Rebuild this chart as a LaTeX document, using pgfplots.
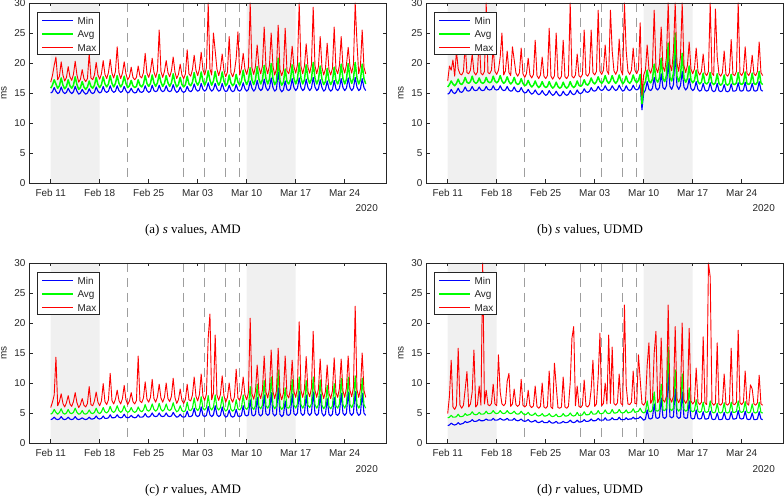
\documentclass[border=0pt]{standalone}
\usepackage{fontspec}
\setmainfont{Liberation Sans}
\newfontfamily\capfont{Liberation Serif}
\usepackage{pgfplots}
\usepackage{pgfplotstable}
\pgfplotsset{compat=1.18}
\definecolor{shade}{gray}{0.94}
\definecolor{axcol}{gray}{0.15}
\definecolor{dashcol}{gray}{0.62}
\definecolor{mblue}{rgb}{0,0,1}
\definecolor{mgreen}{rgb}{0,1,0}
\definecolor{mred}{rgb}{1,0,0}

% panel (a): s values, AMD  -- 4 samples per day from Feb 11
\pgfplotstableread[row sep=\\]{
mn av mx\\
15.0 15.8 16.8\\ 15.2 16.3 17.9\\ 15.9 17.2 19.6\\ 15.3 16.5 21.0\\
14.9 15.8 17.2\\ 15.1 16.2 17.8\\ 16.0 17.5 20.2\\ 15.2 16.3 18.0\\
14.9 15.7 17.0\\ 15.1 16.1 17.6\\ 15.8 17.2 19.4\\ 15.2 16.2 17.7\\
14.9 15.8 17.1\\ 15.2 16.3 18.1\\ 16.1 17.7 20.3\\ 15.3 16.4 18.0\\
14.8 15.6 16.8\\ 15.0 15.9 17.3\\ 15.6 16.9 18.9\\ 15.1 16.0 17.4\\
14.8 15.6 16.9\\ 15.0 16.0 17.4\\ 15.7 17.0 21.6\\ 15.1 16.1 17.5\\
14.9 15.8 17.2\\ 15.1 16.3 18.0\\ 16.0 17.6 20.1\\ 15.3 16.4 18.0\\
15.0 15.9 17.3\\ 15.2 16.4 18.2\\ 16.1 17.7 20.4\\ 15.3 16.5 18.1\\
15.1 16.0 17.4\\ 15.3 16.5 18.4\\ 16.2 17.9 20.6\\ 15.4 16.6 18.3\\
15.1 16.0 17.5\\ 15.3 16.6 18.6\\ 16.2 17.9 22.7\\ 15.4 16.6 18.4\\
15.1 16.0 17.4\\ 15.3 16.5 18.3\\ 16.1 17.8 20.2\\ 15.4 16.6 18.2\\
15.0 15.9 17.2\\ 15.2 16.2 17.7\\ 15.8 17.1 19.3\\ 15.2 16.2 17.6\\
15.0 15.9 17.2\\ 15.1 16.1 17.6\\ 15.8 17.2 19.5\\ 15.2 16.3 17.8\\
15.1 16.0 17.5\\ 15.3 16.5 18.4\\ 16.2 17.9 21.6\\ 15.4 16.6 18.3\\
15.1 16.1 17.6\\ 15.3 16.6 18.6\\ 16.3 18.0 20.8\\ 15.4 16.7 18.5\\
15.2 16.1 17.6\\ 15.4 16.7 18.7\\ 16.3 18.1 25.5\\ 15.5 16.8 18.6\\
15.2 16.1 17.6\\ 15.4 16.6 18.6\\ 16.2 17.9 20.4\\ 15.4 16.7 18.4\\
15.2 16.1 17.7\\ 15.4 16.7 18.7\\ 16.4 18.2 21.0\\ 15.5 16.8 18.5\\
15.1 16.0 17.4\\ 15.3 16.4 18.1\\ 16.0 17.6 19.8\\ 15.3 16.4 18.0\\
15.1 16.0 17.4\\ 15.3 16.4 18.2\\ 16.1 17.8 22.2\\ 15.4 16.5 18.2\\
15.2 16.2 17.8\\ 15.5 16.8 18.9\\ 16.5 18.4 21.3\\ 15.6 16.9 18.8\\
15.3 16.3 17.9\\ 15.5 16.9 19.0\\ 16.6 18.5 21.8\\ 15.6 17.0 18.9\\
15.3 16.3 18.0\\ 15.6 17.0 19.2\\ 16.7 18.7 30.0\\ 15.7 17.1 19.0\\
15.3 16.3 18.0\\ 15.6 17.0 25.0\\ 16.6 18.6 22.0\\ 15.7 17.0 19.0\\
15.3 16.3 17.9\\ 15.5 16.9 19.0\\ 16.6 18.5 21.5\\ 15.6 17.0 18.8\\
15.2 16.2 17.7\\ 15.4 16.6 18.5\\ 16.3 18.0 24.4\\ 15.5 16.7 18.4\\
15.2 16.2 17.7\\ 15.4 16.6 18.6\\ 16.4 18.1 20.8\\ 15.5 16.8 25.2\\
15.3 16.3 18.0\\ 15.6 17.0 19.1\\ 16.7 18.8 21.6\\ 15.7 17.1 19.0\\
15.3 16.4 18.1\\ 15.6 17.1 19.3\\ 17.0 19.2 30.0\\ 15.8 17.2 19.2\\
15.3 16.4 18.1\\ 15.7 17.2 19.4\\ 17.1 19.4 23.0\\ 15.8 17.3 19.3\\
15.4 16.5 18.2\\ 15.7 17.2 19.5\\ 17.3 19.6 26.0\\ 15.9 17.4 19.4\\
15.4 16.5 18.2\\ 15.8 17.3 19.6\\ 17.5 19.9 25.0\\ 15.9 17.4 19.5\\
15.3 16.4 18.0\\ 15.6 16.9 19.0\\ 18.5 20.8 26.3\\ 15.7 17.1 18.9\\
15.2 16.3 17.9\\ 15.5 16.8 18.8\\ 17.0 19.0 25.8\\ 15.6 16.9 18.7\\
15.4 16.5 18.2\\ 15.7 17.2 19.5\\ 17.4 19.7 22.8\\ 15.9 17.4 19.4\\
15.4 16.5 18.3\\ 15.8 17.3 19.7\\ 17.5 20.0 30.0\\ 15.9 17.5 19.5\\
15.4 16.5 18.2\\ 15.7 17.2 19.5\\ 17.3 19.7 23.2\\ 15.9 17.4 19.3\\
15.4 16.6 18.3\\ 15.8 17.3 19.7\\ 17.6 20.1 29.3\\ 16.0 17.5 19.6\\
15.4 16.5 18.2\\ 15.7 17.2 19.4\\ 17.2 19.5 24.4\\ 15.9 17.3 19.3\\
15.3 16.4 18.0\\ 15.6 16.9 19.0\\ 17.0 19.1 23.3\\ 15.7 17.1 18.9\\
15.3 16.4 18.0\\ 15.6 17.0 19.1\\ 17.1 19.3 26.0\\ 15.7 17.1 19.0\\
15.4 16.5 18.2\\ 15.8 17.3 19.6\\ 17.4 19.8 24.4\\ 15.9 17.4 19.4\\
15.4 16.5 18.3\\ 15.8 17.3 19.7\\ 17.5 19.9 22.6\\ 15.9 17.5 19.5\\
15.4 16.6 18.3\\ 15.8 17.4 19.8\\ 17.6 20.1 30.0\\ 16.0 17.5 23.5\\
15.4 16.5 18.2\\ 15.7 17.2 19.5\\ 17.4 19.8 25.5\\ 15.9 17.4 19.3\\
15.4 16.5 18.2\\
}\tabA

% panel (b): s values, UDMD
\pgfplotstableread[row sep=\\]{
mn av mx\\
14.8 16.0 17.0\\ 15.0 16.4 19.5\\ 15.6 17.0 18.8\\ 15.1 16.5 20.5\\
14.9 16.2 17.8\\ 15.2 16.6 22.0\\ 15.8 17.3 19.0\\ 15.2 16.6 18.2\\
15.1 16.4 18.0\\ 15.4 16.8 18.6\\ 16.0 17.6 23.0\\ 15.4 16.8 18.4\\
15.3 16.6 18.2\\ 15.5 16.9 18.8\\ 16.1 17.8 21.5\\ 15.5 16.9 18.5\\
15.4 16.6 18.0\\ 15.5 16.8 18.5\\ 16.0 17.5 24.0\\ 15.5 16.8 18.3\\
15.4 16.6 18.0\\ 15.5 16.8 18.6\\ 16.1 17.6 30.0\\ 15.6 16.9 18.4\\
15.5 16.7 18.2\\ 15.6 16.9 18.8\\ 16.2 17.8 22.5\\ 15.6 17.0 18.6\\
15.5 16.7 18.1\\ 15.6 17.0 18.8\\ 16.2 17.9 21.0\\ 15.6 17.0 25.0\\
15.4 16.6 18.0\\ 15.5 16.9 18.7\\ 16.1 17.7 22.0\\ 15.5 16.9 18.4\\
15.3 16.5 17.9\\ 15.4 16.8 22.7\\ 16.0 17.6 20.5\\ 15.4 16.7 18.3\\
15.2 16.4 17.8\\ 15.3 16.6 18.4\\ 15.9 17.4 22.5\\ 15.3 16.6 18.2\\
15.0 16.2 17.6\\ 15.1 16.4 18.2\\ 15.6 17.1 20.8\\ 15.1 16.4 18.0\\
14.8 16.0 17.5\\ 15.0 16.3 18.1\\ 15.5 17.0 23.8\\ 15.0 16.3 17.9\\
14.7 15.9 17.4\\ 14.9 16.2 18.0\\ 15.4 16.9 21.0\\ 14.9 16.2 17.8\\
14.6 15.9 17.4\\ 14.8 16.1 17.9\\ 15.4 16.9 25.8\\ 14.9 16.2 17.8\\
14.6 15.8 17.3\\ 14.8 16.1 17.9\\ 15.3 16.8 25.0\\ 14.8 16.1 17.7\\
14.5 15.8 17.3\\ 14.7 16.0 17.8\\ 15.3 16.8 23.8\\ 14.8 16.1 17.7\\
14.6 15.8 17.4\\ 14.8 16.1 17.9\\ 15.4 16.9 30.0\\ 14.9 16.2 17.8\\
14.7 15.9 17.5\\ 14.9 16.2 18.0\\ 15.5 17.0 21.5\\ 15.0 16.3 17.9\\
14.9 16.1 17.6\\ 15.1 16.4 18.1\\ 15.7 17.2 25.5\\ 15.2 16.5 18.1\\
15.1 16.3 17.8\\ 15.3 16.7 18.4\\ 15.9 17.5 25.5\\ 15.4 16.8 18.4\\
15.3 16.5 18.0\\ 15.5 16.9 18.6\\ 16.1 17.7 28.8\\ 15.6 16.9 18.6\\
15.4 16.6 18.1\\ 15.6 17.0 18.8\\ 16.2 17.9 23.0\\ 15.6 17.0 18.7\\
15.4 16.6 18.1\\ 15.6 17.0 28.8\\ 16.2 17.9 22.0\\ 15.7 17.0 18.7\\
15.4 16.6 18.1\\ 15.6 17.0 18.8\\ 16.3 18.0 24.0\\ 15.7 17.1 18.8\\
15.3 16.5 18.0\\ 15.5 16.9 30.0\\ 16.2 17.8 22.0\\ 15.6 16.9 18.6\\
15.4 16.6 18.1\\ 15.6 17.0 18.8\\ 16.3 18.0 22.5\\ 15.7 17.1 18.8\\
15.5 16.7 18.2\\ 15.7 17.1 18.9\\ 16.4 18.1 26.7\\ 12.2 13.2 14.6\\
15.0 16.3 18.0\\ 15.5 16.9 18.8\\ 16.9 18.8 23.0\\ 15.6 17.0 18.9\\
15.4 16.7 18.3\\ 15.8 17.3 19.4\\ 17.6 19.8 28.8\\ 15.8 17.3 19.2\\
15.5 16.8 18.4\\ 15.9 17.5 19.8\\ 18.2 20.8 26.0\\ 15.9 17.4 19.4\\
15.6 16.9 18.6\\ 16.2 17.9 21.0\\ 20.2 23.3 30.0\\ 16.1 17.6 19.8\\
15.6 17.0 18.7\\ 16.4 18.3 22.0\\ 21.6 25.0 30.0\\ 16.2 17.8 20.0\\
15.6 16.9 18.6\\ 16.2 17.8 21.0\\ 18.6 21.6 30.0\\ 16.0 17.5 19.6\\
15.5 16.8 18.4\\ 15.9 17.4 19.6\\ 17.4 19.5 23.5\\ 15.8 17.2 19.0\\
15.4 16.7 18.2\\ 15.7 17.1 19.0\\ 16.9 18.8 22.5\\ 15.6 16.9 18.6\\
15.3 16.5 18.0\\ 15.5 16.8 18.6\\ 16.6 18.3 21.5\\ 15.5 16.7 18.3\\
15.3 16.5 17.9\\ 15.5 16.8 18.6\\ 16.7 18.4 30.0\\ 15.5 16.7 18.3\\
15.2 16.4 17.9\\ 15.4 16.7 29.0\\ 16.6 18.2 21.0\\ 15.4 16.6 18.2\\
15.2 16.3 17.8\\ 15.4 16.6 18.4\\ 16.4 18.0 22.0\\ 15.3 16.5 18.1\\
15.2 16.3 17.8\\ 15.4 16.6 18.4\\ 16.5 18.1 23.9\\ 15.3 16.5 18.1\\
15.3 16.4 17.9\\ 15.5 16.7 18.6\\ 16.7 18.4 30.0\\ 15.4 16.6 18.3\\
15.3 16.4 17.9\\ 15.5 16.7 18.5\\ 16.8 18.5 22.7\\ 15.4 16.6 18.3\\
15.3 16.4 17.9\\ 15.5 16.7 18.5\\ 16.6 18.3 21.3\\ 15.4 16.6 18.2\\
15.3 16.4 17.9\\ 15.5 16.8 18.6\\ 16.9 18.6 23.5\\ 15.5 16.7 18.4\\
15.3 16.4 17.9\\
}\tabB

% panel (c): r values, AMD
\pgfplotstableread[row sep=\\]{
mn av mx\\
3.9 4.8 5.9\\ 4.0 5.0 6.8\\ 4.3 5.6 8.0\\ 4.0 5.1 14.3\\
3.9 4.8 6.2\\ 4.0 5.1 6.9\\ 4.4 5.7 8.2\\ 4.0 5.0 6.6\\
3.9 4.8 6.0\\ 4.0 5.0 6.7\\ 4.3 5.6 7.9\\ 4.0 5.0 6.5\\
3.9 4.9 6.1\\ 4.0 5.1 6.9\\ 4.4 5.8 8.4\\ 4.0 5.1 6.7\\
3.9 4.8 5.9\\ 4.0 4.9 6.4\\ 4.2 5.4 7.4\\ 4.0 4.9 6.3\\
3.9 4.8 6.0\\ 4.0 5.0 6.6\\ 4.3 5.5 9.4\\ 4.0 5.0 6.4\\
4.0 4.9 6.2\\ 4.1 5.1 7.0\\ 4.5 5.8 8.5\\ 4.1 5.1 6.8\\
4.0 4.9 6.2\\ 4.1 5.2 7.0\\ 4.5 5.9 9.9\\ 4.1 5.2 6.9\\
4.1 5.0 6.4\\ 4.2 5.3 7.2\\ 4.7 6.1 11.6\\ 4.2 5.3 7.1\\
4.2 5.1 6.5\\ 4.3 5.4 7.3\\ 4.7 6.2 8.8\\ 4.3 5.4 7.1\\
4.2 5.1 6.5\\ 4.3 5.4 7.4\\ 4.8 6.2 9.6\\ 4.3 5.4 7.2\\
4.2 5.1 6.4\\ 4.3 5.3 7.0\\ 4.6 5.9 8.4\\ 4.3 5.3 6.9\\
4.2 5.1 6.5\\ 4.3 5.3 7.1\\ 4.7 6.0 14.5\\ 4.3 5.4 7.0\\
4.3 5.2 6.7\\ 4.4 5.5 7.5\\ 4.9 6.4 10.2\\ 4.4 5.5 7.3\\
4.3 5.3 6.8\\ 4.5 5.6 7.6\\ 5.0 6.5 10.6\\ 4.5 5.6 7.4\\
4.4 5.3 6.8\\ 4.5 5.6 7.7\\ 5.0 6.6 9.8\\ 4.5 5.6 7.5\\
4.4 5.3 6.8\\ 4.5 5.6 7.6\\ 5.0 6.5 10.0\\ 4.5 5.6 7.4\\
4.4 5.4 6.9\\ 4.5 5.7 7.8\\ 5.1 6.7 10.8\\ 4.6 5.7 7.6\\
4.3 5.2 6.6\\ 4.4 5.4 7.2\\ 4.8 6.2 9.0\\ 4.4 5.4 7.1\\
4.3 5.2 6.6\\ 4.4 5.4 7.3\\ 5.3 6.8 9.8\\ 4.4 5.5 7.2\\
4.4 5.4 7.0\\ 4.6 5.8 8.0\\ 5.8 7.5 11.0\\ 4.6 5.8 7.8\\
4.4 5.4 7.0\\ 4.6 5.8 8.1\\ 6.0 7.7 11.5\\ 4.6 5.8 7.8\\
4.4 5.5 7.1\\ 4.6 5.9 8.2\\ 6.1 7.9 17.5\\ 4.7 5.9 21.5\\
4.4 5.5 7.2\\ 4.7 6.0 8.3\\ 6.2 8.0 18.0\\ 4.7 5.9 8.0\\
4.4 5.5 7.1\\ 4.6 5.9 8.1\\ 6.0 7.7 11.2\\ 4.7 5.8 7.9\\
4.3 5.3 6.8\\ 4.5 5.6 7.6\\ 5.5 7.1 10.0\\ 4.5 5.6 7.4\\
4.3 5.3 6.8\\ 4.5 5.6 7.7\\ 5.6 7.2 12.3\\ 4.5 5.7 7.5\\
4.4 5.5 7.1\\ 4.6 5.9 8.2\\ 6.2 8.0 11.0\\ 4.7 5.9 8.0\\
4.5 5.6 7.2\\ 4.7 6.0 8.4\\ 7.2 9.4 20.8\\ 4.7 6.0 8.2\\
4.5 5.6 7.3\\ 4.8 6.2 8.6\\ 7.6 9.8 13.0\\ 4.8 6.1 8.3\\
4.5 5.7 7.4\\ 4.8 6.3 8.8\\ 8.0 10.4 14.5\\ 4.9 6.2 8.5\\
4.6 5.8 7.5\\ 4.9 6.4 9.0\\ 8.4 11.0 15.5\\ 4.9 6.3 8.6\\
4.5 5.7 7.4\\ 4.8 6.2 8.7\\ 9.2 12.2 15.8\\ 4.8 6.1 8.4\\
4.4 5.6 7.2\\ 4.7 6.0 8.3\\ 7.0 9.2 14.5\\ 4.7 5.9 8.1\\
4.6 5.8 7.5\\ 4.9 6.4 9.0\\ 8.2 10.6 13.8\\ 4.9 6.3 8.6\\
4.6 5.8 7.6\\ 5.0 6.5 9.2\\ 8.6 11.0 20.2\\ 5.0 6.4 8.8\\
4.6 5.8 7.6\\ 4.9 6.4 9.0\\ 8.0 10.4 14.4\\ 5.0 6.3 8.6\\
4.6 5.9 7.7\\ 5.0 6.5 9.2\\ 8.5 11.0 18.6\\ 5.0 6.4 8.8\\
4.6 5.8 7.6\\ 4.9 6.4 9.0\\ 8.1 10.5 14.0\\ 5.0 6.3 8.6\\
4.5 5.7 7.4\\ 4.8 6.2 8.6\\ 7.4 9.6 13.0\\ 4.8 6.1 8.3\\
4.5 5.7 7.4\\ 4.8 6.2 8.7\\ 7.6 9.9 14.2\\ 4.8 6.2 8.4\\
4.6 5.8 7.6\\ 5.0 6.5 9.1\\ 8.3 10.8 14.0\\ 5.0 6.4 8.7\\
4.6 5.8 7.6\\ 5.0 6.5 9.2\\ 8.5 11.0 14.5\\ 5.0 6.4 8.8\\
4.6 5.9 7.7\\ 5.0 6.6 9.3\\ 8.6 11.2 22.8\\ 5.1 6.5 8.9\\
4.6 5.8 7.6\\ 4.9 6.4 9.0\\ 8.3 10.8 15.0\\ 5.0 6.4 8.8\\
4.6 5.8 7.6\\
}\tabC

% panel (d): r values, UDMD
\pgfplotstableread[row sep=\\]{
mn av mx\\
2.9 4.2 4.9\\ 3.0 4.3 7.8\\ 3.3 4.6 13.8\\ 3.1 4.3 6.0\\
3.0 4.3 5.6\\ 3.1 4.4 6.2\\ 3.4 4.8 15.8\\ 3.1 4.4 6.3\\
3.2 4.4 5.8\\ 3.3 4.5 6.3\\ 3.6 4.9 9.0\\ 3.4 4.6 11.9\\
3.5 4.7 6.0\\ 3.6 4.8 6.5\\ 3.9 5.2 8.5\\ 3.6 4.8 15.5\\
3.6 4.7 6.0\\ 3.7 4.8 6.4\\ 3.9 5.1 9.5\\ 3.7 4.8 6.3\\
3.7 4.8 30.0\\ 3.8 4.9 6.5\\ 4.0 5.3 8.8\\ 3.8 4.9 6.4\\
3.8 4.9 6.2\\ 3.8 5.0 6.6\\ 4.1 5.4 9.8\\ 3.8 5.0 6.5\\
3.8 4.9 6.2\\ 3.9 5.0 14.7\\ 4.1 5.4 8.5\\ 3.9 5.0 6.5\\
3.8 4.9 6.2\\ 3.9 5.0 6.6\\ 4.1 5.4 10.3\\ 3.8 5.0 11.6\\
3.8 4.9 6.1\\ 3.8 5.0 6.5\\ 4.1 5.3 9.0\\ 3.8 4.9 6.4\\
3.7 4.8 6.1\\ 3.8 4.9 6.4\\ 4.0 5.3 10.6\\ 3.7 4.9 6.3\\
3.6 4.7 6.0\\ 3.7 4.8 6.3\\ 3.9 5.1 8.8\\ 3.6 4.7 6.2\\
3.5 4.6 5.9\\ 3.6 4.7 6.2\\ 3.8 5.0 9.5\\ 3.5 4.6 6.1\\
3.4 4.5 5.8\\ 3.5 4.6 6.1\\ 3.7 4.9 10.0\\ 3.4 4.5 6.0\\
3.4 4.5 5.8\\ 3.4 4.6 6.1\\ 3.7 4.9 12.0\\ 3.4 4.5 6.0\\
3.3 4.4 5.7\\ 3.4 4.5 13.3\\ 3.6 4.8 9.5\\ 3.3 4.4 5.9\\
3.3 4.4 5.8\\ 3.4 4.5 6.0\\ 3.6 4.9 11.0\\ 3.4 4.5 6.0\\
3.4 4.5 5.8\\ 3.5 4.6 6.1\\ 3.8 5.0 10.0\\ 3.5 4.6 17.5\\
3.4 4.5 19.4\\ 3.5 4.6 6.2\\ 3.8 5.1 9.5\\ 3.5 4.6 6.1\\
3.5 4.6 5.9\\ 3.6 4.7 6.3\\ 3.9 5.2 10.5\\ 3.6 4.7 6.2\\
3.6 4.7 6.0\\ 3.7 4.8 6.4\\ 4.0 5.3 9.0\\ 3.7 4.8 13.8\\
3.7 4.8 6.1\\ 3.8 4.9 6.5\\ 4.1 5.4 11.0\\ 3.8 4.9 18.3\\
3.8 4.9 6.2\\ 3.8 5.0 6.6\\ 4.2 5.5 10.0\\ 3.8 5.0 6.5\\
3.8 4.9 18.0\\ 3.9 5.0 6.6\\ 4.2 5.6 16.0\\ 3.9 5.0 6.6\\
3.9 5.0 6.3\\ 3.9 5.1 6.7\\ 4.3 5.6 11.5\\ 3.9 5.1 6.6\\
3.9 5.0 6.3\\ 3.9 5.1 23.0\\ 4.2 5.5 9.5\\ 3.9 5.0 6.5\\
4.0 5.1 6.4\\ 4.0 5.2 6.8\\ 4.3 5.7 12.0\\ 4.0 5.1 6.6\\
4.1 5.2 6.5\\ 4.1 5.3 14.7\\ 4.4 5.8 10.5\\ 4.1 5.2 6.6\\
3.8 5.0 6.3\\ 4.0 5.2 6.8\\ 5.5 7.0 13.0\\ 4.1 5.3 16.7\\
4.0 5.2 6.6\\ 4.2 5.5 7.2\\ 6.5 8.5 15.0\\ 4.2 5.4 18.6\\
4.1 5.3 6.7\\ 4.3 5.6 7.4\\ 7.5 9.8 17.5\\ 4.3 5.5 7.2\\
4.1 5.4 6.8\\ 4.4 5.8 7.8\\ 12.0 16.0 23.0\\ 4.4 5.7 7.5\\
4.2 5.4 6.8\\ 4.4 5.8 7.8\\ 9.0 12.2 19.4\\ 4.4 5.7 7.4\\
4.1 5.3 6.7\\ 4.3 5.7 7.5\\ 8.5 11.5 20.0\\ 4.3 5.6 7.2\\
4.1 5.3 6.6\\ 4.2 5.5 7.2\\ 7.0 9.2 19.1\\ 4.2 5.4 7.0\\
4.0 5.2 6.5\\ 4.1 5.4 6.9\\ 5.5 7.2 12.5\\ 4.1 5.3 6.8\\
4.0 5.1 6.4\\ 4.1 5.3 6.8\\ 5.2 6.8 17.7\\ 4.0 5.2 6.7\\
4.0 5.1 6.4\\ 4.1 5.3 30.0\\ 5.3 7.0 27.7\\ 4.0 5.2 6.7\\
3.9 5.0 6.3\\ 4.0 5.2 6.6\\ 5.0 6.6 16.7\\ 3.9 5.1 6.5\\
3.9 5.0 6.3\\ 4.0 5.2 6.7\\ 5.1 6.7 11.5\\ 4.0 5.1 6.5\\
3.9 5.0 6.3\\ 4.0 5.2 6.7\\ 5.2 6.8 15.8\\ 4.0 5.1 6.5\\
4.0 5.1 6.4\\ 4.1 5.3 6.8\\ 5.4 7.0 18.8\\ 4.1 5.2 6.7\\
4.0 5.1 6.4\\ 4.1 5.3 6.8\\ 5.3 6.9 12.0\\ 4.0 5.2 6.6\\
3.9 5.0 6.3\\ 4.0 5.2 9.7\\ 5.0 6.5 9.0\\ 3.9 5.1 6.5\\
3.9 5.0 6.3\\ 4.0 5.2 6.7\\ 5.2 6.8 11.3\\ 4.0 5.1 6.5\\
3.9 5.0 6.3\\
}\tabD

\tikzset{
  lmin/.style={draw=mblue, line width=1.1bp, line join=round},
  lavgA/.style={draw=mgreen, line width=1.5bp, line join=round},
  lavgB/.style={draw=mgreen, line width=1.1bp, line join=round},
  lmax/.style={draw=mred, line width=0.9bp, line join=round},
}

\pgfplotsset{
  panel/.style={
    scale only axis, width=357bp, height=180bp,
    anchor=south west,
    xmin=-3.1, xmax=47.9, ymin=0, ymax=30,
    xtick={0,7,14,21,28,35,42},
    xticklabels={Feb 11,Feb 18,Feb 25,Mar 03,Mar 10,Mar 17,Mar 24},
    ytick={0,5,10,15,20,25,30},
    tick align=inside,
    major tick length=3.5bp,
    axis on top,
    axis line style={axcol, line width=0.5bp},
    tick style={axcol, line width=0.5bp},
    tick label style={font=\fontsize{10}{12}\selectfont, text=axcol},
    /pgf/number format/assume math mode=true,
    xticklabel style={anchor=base, yshift=-14bp},
  },
  shadebox/.style={draw=none, fill=shade, forget plot},
  vdash/.style={draw=dashcol, line width=0.6bp, dash pattern=on 9bp off 6bp, forget plot},
}

\newcommand{\decor}{%
  \addplot[shadebox] coordinates {(0,0) (0,30) (7,30) (7,0) (0,0)};
  \addplot[shadebox] coordinates {(28,0) (28,30) (35,30) (35,0) (28,0)};
  \addplot[vdash] coordinates {(11,30) (11,0)};
  \addplot[vdash] coordinates {(19,30) (19,0)};
  \addplot[vdash] coordinates {(22,30) (22,0)};
  \addplot[vdash] coordinates {(25,30) (25,0)};
  \addplot[vdash] coordinates {(27,30) (27,0)};
}

% #1 table, #2 avg style
\newcommand{\series}[2]{%
  \addplot[lmin] table[x expr=\coordindex/4, y=mn] {#1};
  \addplot[#2] table[x expr=\coordindex/4, y=av] {#1};
  \addplot[lmax] table[x expr=\coordindex/4, y=mx] {#1};
}

% legend box: #1,#2 top-left corner, #3 half thickness of avg sample
\newcommand{\mylegend}[3]{%
  \begin{scope}[shift={(#1,#2)}]
    \fill[white] (0,0) rectangle (61.6bp,-42bp);
    \begin{scope}[every node/.style={anchor=base west, inner sep=0pt, text=axcol, font=\fontsize{10}{12}\selectfont}]
      \node at (39.6bp,-12.1bp) {Min};
      \node at (39.6bp,-25.6bp) {Avg};
      \node at (39.6bp,-39.1bp) {Max};
    \end{scope}
    \fill[mblue] (4bp,-9.2bp) rectangle (35.6bp,-7.8bp);
    \fill[mgreen] (4bp,{-22bp-#3}) rectangle (35.6bp,{-22bp+#3});
    \fill[mred] (4bp,-36bp) rectangle (35.6bp,-34.6bp);
    \draw[axcol, line width=0.5bp] (0,0) rectangle (61.6bp,-42bp);
  \end{scope}
}

\begin{document}
\begin{tikzpicture}
\useasboundingbox (0,0) rectangle (784bp,496bp);

\begin{axis}[panel, at={(29bp,313bp)}]
  \decor
  \series{\tabA}{lavgA}
\end{axis}

\begin{axis}[panel, at={(426bp,313bp)}]
  \decor
  \series{\tabB}{lavgA}
\end{axis}

\begin{axis}[panel, at={(29bp,53bp)}]
  \decor
  \series{\tabC}{lavgB}
\end{axis}

\begin{axis}[panel, at={(426bp,53bp)}]
  \decor
  \series{\tabD}{lavgB}
\end{axis}

\mylegend{37.7bp}{484bp}{0.8bp}
\mylegend{434.7bp}{484bp}{0.8bp}
\mylegend{37.7bp}{224bp}{0.6bp}
\mylegend{434.7bp}{224bp}{0.6bp}

% y labels and year labels
\begin{scope}[every node/.style={font=\fontsize{10}{12}\selectfont, text=axcol}]
  \node[rotate=90, anchor=base] at (6.7bp,403bp) {ms};
  \node[rotate=90, anchor=base] at (403.7bp,403bp) {ms};
  \node[rotate=90, anchor=base] at (6.7bp,143bp) {ms};
  \node[rotate=90, anchor=base] at (403.7bp,143bp) {ms};
  \node[anchor=base east, inner sep=0pt] at (378bp,284bp) {2020};
  \node[anchor=base east, inner sep=0pt] at (775bp,284bp) {2020};
  \node[anchor=base east, inner sep=0pt] at (378bp,24bp) {2020};
  \node[anchor=base east, inner sep=0pt] at (775bp,24bp) {2020};
\end{scope}

% captions
\begin{scope}[every node/.style={font=\capfont\fontsize{13}{15}\selectfont, anchor=base, inner sep=0pt}]
  \node at (193bp,262bp) {(a) \textit{s} values, AMD};
  \node at (590bp,262bp) {(b) \textit{s} values, UDMD};
  \node at (193bp,3bp) {(c) \textit{r} values, AMD};
  \node at (590bp,3bp) {(d) \textit{r} values, UDMD};
\end{scope}
\end{tikzpicture}
\end{document}
